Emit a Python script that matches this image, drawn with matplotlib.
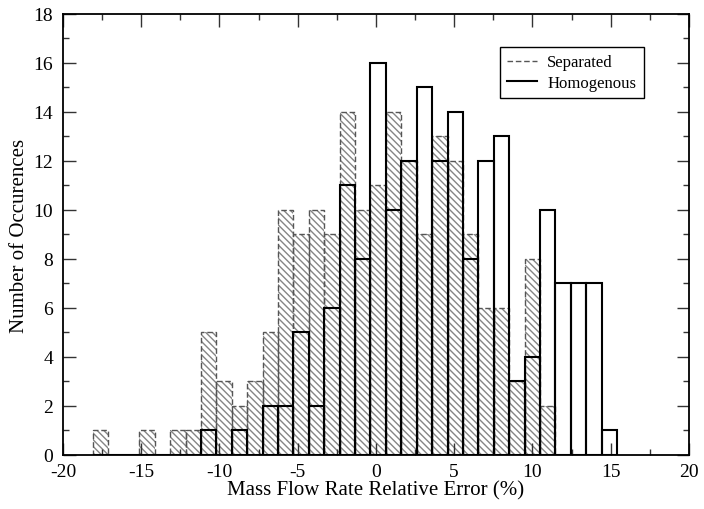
import numpy as np
import matplotlib
matplotlib.use("Agg")
import matplotlib.pyplot as plt
from matplotlib.ticker import MultipleLocator

plt.rcParams['font.family'] = ['Liberation Serif', 'DejaVu Serif']
plt.rcParams['hatch.linewidth'] = 1.0
plt.rcParams['axes.unicode_minus'] = False

# Histogram bins (34 bins, shared by both series)
bin_edges = np.linspace(-18.08, 15.41, 35)

separated = [1, 0, 0, 1, 0, 1, 1, 5, 3, 2, 3, 5, 10, 9, 10, 9, 14, 10,
             11, 14, 12, 9, 13, 12, 9, 6, 6, 3, 8, 2, 0, 0, 0, 0]
homogenous = [0, 0, 0, 0, 0, 0, 0, 1, 0, 1, 0, 2, 2, 5, 2, 6, 11, 8,
              16, 10, 12, 15, 12, 14, 8, 12, 13, 3, 4, 10, 7, 7, 7, 1]

xlabel = "Mass Flow Rate Relative Error (%)"
ylabel = "Number of Occurences"

fig = plt.figure(figsize=(7.04, 5.10), dpi=100)
ax = fig.add_axes([0.0895, 0.106, 0.889, 0.8646])

lefts = bin_edges[:-1]
widths = np.diff(bin_edges)

# Separated: hatch layer
ax.bar(lefts, separated, width=widths, align='edge', color='white',
       edgecolor='#858585', linewidth=0, hatch='\\\\\\\\\\', zorder=1)
# Separated: dashed outline
ax.bar(lefts, separated, width=widths, align='edge', fill=False,
       edgecolor='#555555', linewidth=1.0, linestyle=(0, (4, 2)), zorder=2)
# Homogenous: solid outline
ax.bar(lefts, homogenous, width=widths, align='edge', fill=False,
       edgecolor='black', linewidth=1.5, zorder=3)

# legend proxies
ax.plot([], [], color='#555555', linestyle=(0, (4, 2)), linewidth=1.0, label='Separated')
ax.plot([], [], color='black', linewidth=1.5, label='Homogenous')
leg = ax.legend(loc='upper right', bbox_to_anchor=(0.933, 0.933), fontsize=12,
                frameon=True, fancybox=False, edgecolor='black', framealpha=1,
                handlelength=1.8, handletextpad=0.6, borderpad=0.45,
                labelspacing=0.25, borderaxespad=0.2)
leg.get_frame().set_linewidth(1.0)

ax.set_xlim(-20, 20)
ax.set_ylim(0, 18)
ax.xaxis.set_major_locator(MultipleLocator(5))
ax.xaxis.set_minor_locator(MultipleLocator(2.5))
ax.yaxis.set_major_locator(MultipleLocator(2))
ax.yaxis.set_minor_locator(MultipleLocator(1))
ax.tick_params(which='both', direction='in', top=True, right=True,
               labelsize=14, color='#333333')
ax.tick_params(axis='x', which='both', pad=6)
ax.tick_params(axis='y', which='both', pad=7)
ax.tick_params(which='major', length=9, width=1.0)
ax.tick_params(which='minor', length=4.5, width=1.0)
for s in ax.spines.values():
    s.set_linewidth(1.3)

ax.set_xlabel(xlabel, fontsize=15, labelpad=0)
ax.set_ylabel(ylabel, fontsize=15, labelpad=3)

fig.savefig("out.png", dpi=100)
